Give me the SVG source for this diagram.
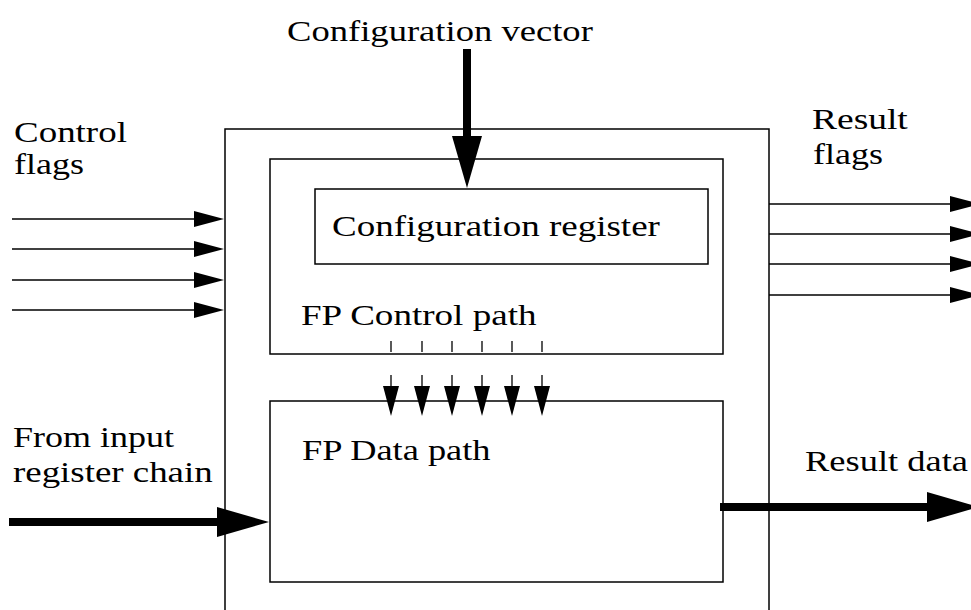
<svg xmlns="http://www.w3.org/2000/svg" width="971" height="610" viewBox="0 0 971 610">
<style>
  .box { fill: none; stroke: #000; stroke-width: 1.5; }
  .thin { stroke: #000; stroke-width: 1.3; fill: none; }
  .thick { stroke: #000; stroke-width: 8; fill: none; }
  .lbl { font-family: "Liberation Serif", "Times New Roman", serif; font-size: 30px; fill: #000; }
</style>
<defs>
  <marker id="headThin" markerUnits="userSpaceOnUse" markerWidth="30" markerHeight="16" refX="0" refY="8" orient="auto">
    <path d="M0,0 L30,8 L0,16 Z" fill="#000"/>
  </marker>
  <marker id="headThick" markerUnits="userSpaceOnUse" markerWidth="52" markerHeight="30" refX="0" refY="15" orient="auto">
    <path d="M0,0 L52,15 L0,30 Z" fill="#000"/>
  </marker>
</defs>

<g id="outer">
  <rect class="box" x="225" y="129" width="544" height="500"/>
</g>
<g id="control-path">
  <rect class="box" x="270" y="159" width="453" height="195"/>
  <text class="lbl" transform="translate(301,325) scale(1.236,1)">FP Control path</text>
</g>
<g id="config-register">
  <rect class="box" x="315" y="189" width="393" height="75"/>
  <text class="lbl" transform="translate(332,236) scale(1.234,1)">Configuration register</text>
</g>
<g id="data-path">
  <rect class="box" x="270" y="401" width="453" height="181"/>
  <text class="lbl" transform="translate(302,460) scale(1.213,1)">FP Data path</text>
</g>

<g id="labels">
  <text class="lbl" transform="translate(287,41) scale(1.22,1)">Configuration vector</text>
  <text class="lbl" transform="translate(14,142) scale(1.232,1)">Control</text>
  <text class="lbl" transform="translate(14,174) scale(1.2,1)">flags</text>
  <text class="lbl" transform="translate(812,129) scale(1.25,1)">Result</text>
  <text class="lbl" transform="translate(813,164) scale(1.2,1)">flags</text>
  <text class="lbl" transform="translate(13,447) scale(1.2,1)">From input</text>
  <text class="lbl" transform="translate(13,482) scale(1.23,1)">register chain</text>
  <text class="lbl" transform="translate(805,471) scale(1.215,1)">Result data</text>
</g>

<g id="connectors">
  <line class="thick" x1="467" y1="49" x2="467" y2="136" marker-end="url(#headThick)"/>
  <line class="thick" x1="9" y1="522" x2="217" y2="522" marker-end="url(#headThick)"/>
  <line class="thick" x1="720" y1="507" x2="927" y2="507" marker-end="url(#headThick)"/>
  <line class="thin" x1="12" y1="219" x2="194" y2="219" marker-end="url(#headThin)"/>
  <line class="thin" x1="12" y1="249" x2="194" y2="249" marker-end="url(#headThin)"/>
  <line class="thin" x1="12" y1="280" x2="194" y2="280" marker-end="url(#headThin)"/>
  <line class="thin" x1="12" y1="310" x2="194" y2="310" marker-end="url(#headThin)"/>
  <line class="thin" x1="769" y1="204" x2="950" y2="204" marker-end="url(#headThin)"/>
  <line class="thin" x1="769" y1="234" x2="950" y2="234" marker-end="url(#headThin)"/>
  <line class="thin" x1="769" y1="264" x2="950" y2="264" marker-end="url(#headThin)"/>
  <line class="thin" x1="769" y1="295" x2="950" y2="295" marker-end="url(#headThin)"/>
  <line class="thin" x1="391" y1="341" x2="391" y2="352"/>
  <line class="thin" x1="422" y1="341" x2="422" y2="352"/>
  <line class="thin" x1="452" y1="341" x2="452" y2="352"/>
  <line class="thin" x1="482" y1="341" x2="482" y2="352"/>
  <line class="thin" x1="512" y1="341" x2="512" y2="352"/>
  <line class="thin" x1="542" y1="341" x2="542" y2="352"/>
  <line class="thin" x1="391" y1="375" x2="391" y2="386" marker-end="url(#headThin)"/>
  <line class="thin" x1="422" y1="375" x2="422" y2="386" marker-end="url(#headThin)"/>
  <line class="thin" x1="452" y1="375" x2="452" y2="386" marker-end="url(#headThin)"/>
  <line class="thin" x1="482" y1="375" x2="482" y2="386" marker-end="url(#headThin)"/>
  <line class="thin" x1="512" y1="375" x2="512" y2="386" marker-end="url(#headThin)"/>
  <line class="thin" x1="542" y1="375" x2="542" y2="386" marker-end="url(#headThin)"/>
</g>
</svg>
